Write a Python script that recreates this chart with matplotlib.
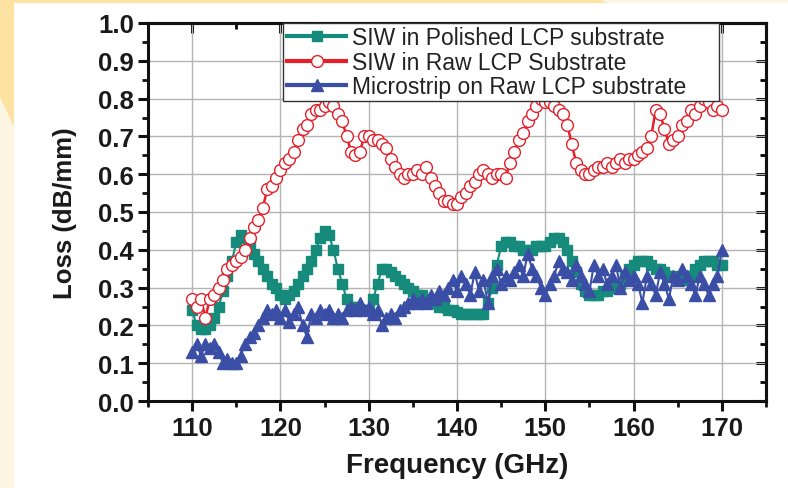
import numpy as np
import matplotlib
matplotlib.use('Agg')
import matplotlib.pyplot as plt
from matplotlib.ticker import MultipleLocator, NullFormatter
from matplotlib.patches import Rectangle, Polygon

plt.rcParams['font.family'] = ['Liberation Sans', 'DejaVu Sans']

# frequency grid (GHz), 0.5 GHz step
freq = np.arange(110, 170.01, 0.5)

# SIW in polished LCP substrate
siw_polished = [
    0.24, 0.20, 0.19, 0.19, 0.20, 0.22, 0.25, 0.29, 0.33, 0.37,
    0.42, 0.44, 0.43, 0.41, 0.39, 0.37, 0.35, 0.33, 0.31, 0.30,
    0.28, 0.27, 0.28, 0.29, 0.31, 0.33, 0.35, 0.37, 0.40, 0.43,
    0.45, 0.44, 0.40, 0.35, 0.31, 0.27, 0.25, 0.25, 0.24, 0.24,
    0.24, 0.27, 0.31, 0.35, 0.35, 0.34, 0.33, 0.32, 0.31, 0.30,
    0.29, 0.28, 0.28, 0.27, 0.26, 0.26, 0.25, 0.25, 0.24, 0.24,
    0.235, 0.23, 0.23, 0.23, 0.23, 0.23, 0.23, 0.26, 0.30, 0.36,
    0.41, 0.42, 0.42, 0.41, 0.41, 0.40, 0.40, 0.40, 0.41, 0.41,
    0.41, 0.42, 0.43, 0.43, 0.42, 0.40, 0.37, 0.34, 0.31, 0.29,
    0.28, 0.28, 0.28, 0.29, 0.29, 0.30, 0.30, 0.31, 0.33, 0.35,
    0.36, 0.37, 0.37, 0.37, 0.36, 0.35, 0.35, 0.34, 0.33, 0.33,
    0.32, 0.32, 0.33, 0.33, 0.35, 0.36, 0.37, 0.37, 0.37, 0.36,
    0.36,
]

# SIW in raw LCP substrate
siw_raw = [
    0.27, 0.25, 0.27, 0.22, 0.27, 0.28, 0.30, 0.32, 0.35, 0.36,
    0.37, 0.38, 0.40, 0.43, 0.46, 0.48, 0.51, 0.56, 0.57, 0.59,
    0.61, 0.63, 0.64, 0.66, 0.69, 0.72, 0.73, 0.76, 0.77, 0.77,
    0.78, 0.79, 0.78, 0.76, 0.74, 0.70, 0.66, 0.65, 0.66, 0.70,
    0.70, 0.69, 0.69, 0.68, 0.67, 0.64, 0.62, 0.60, 0.59, 0.60,
    0.60, 0.61, 0.60, 0.62, 0.59, 0.57, 0.55, 0.53, 0.53, 0.52,
    0.52, 0.54, 0.55, 0.57, 0.58, 0.60, 0.61, 0.60, 0.59, 0.60,
    0.60, 0.59, 0.63, 0.66, 0.69, 0.71, 0.74, 0.76, 0.78, 0.80,
    0.79, 0.79, 0.78, 0.77, 0.76, 0.73, 0.68, 0.63, 0.61, 0.60,
    0.60, 0.61, 0.62, 0.62, 0.63, 0.62, 0.63, 0.64, 0.63, 0.64,
    0.64, 0.65, 0.66, 0.67, 0.70, 0.77, 0.76, 0.72, 0.68, 0.69,
    0.70, 0.73, 0.74, 0.77, 0.76, 0.78, 0.80, 0.79, 0.77, 0.78,
    0.77,
]

# microstrip on raw LCP substrate
microstrip = [
    0.13, 0.15, 0.12, 0.15, 0.14, 0.15, 0.13, 0.10, 0.11, 0.10,
    0.10, 0.12, 0.15, 0.17, 0.18, 0.20, 0.22, 0.24, 0.23, 0.24,
    0.22, 0.24, 0.21, 0.23, 0.25, 0.20, 0.17, 0.23, 0.22, 0.24,
    0.23, 0.24, 0.22, 0.23, 0.22, 0.24, 0.25, 0.24, 0.26, 0.24,
    0.25, 0.23, 0.24, 0.20, 0.22, 0.23, 0.22, 0.24, 0.25, 0.26,
    0.27, 0.26, 0.27, 0.26, 0.28, 0.27, 0.29, 0.28, 0.30, 0.32,
    0.29, 0.33, 0.31, 0.28, 0.34, 0.29, 0.32, 0.26, 0.33, 0.35,
    0.31, 0.33, 0.32, 0.34, 0.36, 0.33, 0.39, 0.35, 0.33, 0.30,
    0.28, 0.31, 0.33, 0.37, 0.35, 0.34, 0.32, 0.36, 0.33, 0.31,
    0.29, 0.36, 0.33, 0.35, 0.31, 0.33, 0.36, 0.30, 0.34, 0.32,
    0.33, 0.31, 0.26, 0.33, 0.31, 0.28, 0.34, 0.31, 0.27, 0.33,
    0.32, 0.35, 0.33, 0.31, 0.28, 0.33, 0.31, 0.28, 0.31, 0.33,
    0.40,
]

labels = ['SIW in Polished LCP substrate', 'SIW in Raw LCP Substrate',
          'Microstrip on Raw LCP substrate']

W, H = 788, 489
fig = plt.figure(figsize=(W / 100, H / 100), dpi=100, facecolor='#FEF5E2')

# page background: white sheet with a yellow corner
fig.add_artist(Rectangle((14 / W, 0), 1, (H - 4) / H, transform=fig.transFigure,
                         facecolor='white', edgecolor='none', zorder=-2))
corner = [(0, 0), (600, 0), (606, 4), (14, 4), (14, 128), (0, 98)]
fig.add_artist(Polygon([(x / W, 1 - y / H) for x, y in corner], closed=True,
                       transform=fig.transFigure, facecolor='#FDE2A2',
                       edgecolor='none', zorder=-1))

ax = fig.add_axes([148 / W, 1 - 402 / H, (766 - 148) / W, (402 - 24) / H])
ax.set_facecolor('white')

ax.plot(freq, siw_polished, '-s', color='#168A7B', ms=7.5, lw=1.5,
        mec='#168A7B', label=labels[0])
ax.plot(freq, siw_raw, '-o', color='#E5202B', ms=8.5, lw=1.8,
        mfc='white', mec='#E5202B', mew=1.0, label=labels[1])
ax.plot(freq, microstrip, '-^', color='#3A4EA5', ms=9, lw=1.5,
        mec='#3A4EA5', label=labels[2])

ax.set_xlim(105, 175)
ax.set_ylim(0, 1.0)
ax.xaxis.set_major_locator(MultipleLocator(10))
ax.xaxis.set_minor_locator(MultipleLocator(5))
ax.yaxis.set_major_locator(MultipleLocator(0.1))
ax.yaxis.set_minor_locator(MultipleLocator(0.05))
ax.yaxis.set_major_formatter(plt.FuncFormatter(lambda v, p: '%.1f' % v))

ax.grid(True, which='major', color='#b4b4b4', lw=1.0)
ax.set_axisbelow(True)

for s in ax.spines.values():
    s.set_linewidth(2.2)
    s.set_color('#111111')

ax.tick_params(which='major', direction='out', length=7, width=2.2,
               labelsize=18.5, pad=3, colors='#111111')
ax.tick_params(which='minor', direction='out', length=4, width=2.0,
               colors='#111111')
ax.tick_params(axis='x', which='major', pad=4)
for t in ax.get_xticklabels() + ax.get_yticklabels():
    t.set_fontweight('bold')
    t.set_color('#1a1a1a')

# inward ticks on top and right
top = ax.secondary_xaxis('top')
top.xaxis.set_major_locator(MultipleLocator(10))
top.xaxis.set_minor_locator(MultipleLocator(5))
top.xaxis.set_major_formatter(NullFormatter())
top.tick_params(which='major', direction='in', length=7, width=2.2)
top.tick_params(which='minor', direction='in', length=4, width=2.0)
right = ax.secondary_yaxis('right')
right.yaxis.set_major_locator(MultipleLocator(0.1))
right.yaxis.set_minor_locator(MultipleLocator(0.05))
right.yaxis.set_major_formatter(NullFormatter())
right.tick_params(which='major', direction='in', length=7, width=2.2)
right.tick_params(which='minor', direction='in', length=4, width=2.0)
for sa in (top, right):
    for s in sa.spines.values():
        s.set_linewidth(2.2)
        s.set_color('#111111')

ax.set_xlabel('Frequency (GHz)', fontsize=20, fontweight='bold', color='#1a1a1a')
ax.set_ylabel('Loss (dB/mm)', fontsize=18.5, fontweight='bold', color='#1a1a1a')
ax.xaxis.set_label_coords(0.5, -0.17)
ax.xaxis.label.set_va('center')
ax.yaxis.set_label_coords(-0.135, 0.5)
ax.yaxis.label.set_va('center')

leg = ax.legend(loc='upper left', bbox_to_anchor=(0.219, 0.80, 0.705, 0.2),
                mode='expand', borderaxespad=0,
                fontsize=16.5, numpoints=1, handlelength=2.6, handletextpad=0.25,
                labelspacing=0.05, borderpad=0.15, fancybox=False, framealpha=1,
                edgecolor='#333333')
leg.get_frame().set_linewidth(1.0)
for ln in leg.get_lines():
    ln.set_linewidth(3.0)
for txt in leg.get_texts():
    txt.set_color('#222222')

fig.savefig('out.png', dpi=100, facecolor=fig.get_facecolor())
